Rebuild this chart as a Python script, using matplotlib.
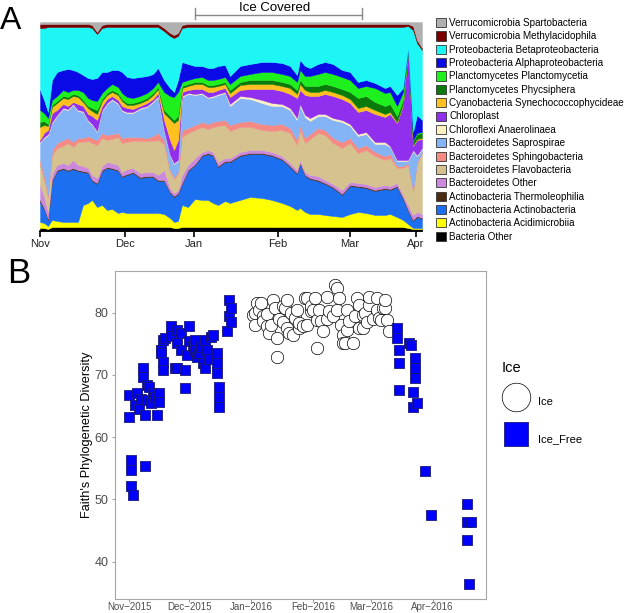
import numpy as np
import pandas as pd
import matplotlib
matplotlib.use('Agg')
import matplotlib.pyplot as plt
from matplotlib.patches import Patch

plt.rcParams['font.family'] = ['Liberation Sans', 'DejaVu Sans']

# ---------------- panel A: relative abundance ----------------
a_pos = [0, 4, 8, 12, 17, 23, 28, 33, 38, 43,
         48, 52, 57, 62, 67, 72, 78, 82, 87, 93,
         100, 107, 113, 118, 124, 130, 134, 138, 142, 148,
         155, 162, 168, 173, 178, 185, 190, 200, 210, 222,
         232, 242, 250, 257, 260, 265, 270, 278, 285, 293,
         302, 310, 318, 326, 335, 345, 350, 357, 363, 368,
         373, 377, 382]
a_tick_pos = [0, 85, 154, 238, 310, 376]
a_tick_lab = ['Nov', 'Dec', 'Jan', 'Feb', 'Mar', 'Apr']
ice_span = (155, 322)

bact_other = [3, 3, 2, 4, 4, 4, 4, 4, 4, 4, 4, 4, 4, 4, 4, 4, 4, 4, 4, 4,
              4, 4, 4, 4, 4, 4, 3, 3, 4, 4, 4, 4, 4, 4, 4, 4, 4, 4, 4, 4,
              4, 4, 4, 4, 4, 4, 4, 4, 4, 4, 4, 4, 4, 4, 4, 4, 4, 4, 4, 3, 2, 2, 2]
acidimicrobiia = [6, 5, 3, 7, 6, 5, 5, 5, 5, 22, 24, 27, 20, 22, 17, 18, 14, 15, 14, 14,
                  14, 14, 14, 14, 13, 9, 6, 7, 22, 20, 28, 27, 27, 24, 22, 26, 24, 27, 30, 29,
                  27, 24, 21, 17, 19, 15, 13, 13, 12, 11, 10, 13, 15, 14, 12, 12, 13, 10, 7, 4, 1, 1, 1]
actinobacteria = [20, 14, 6, 39, 50, 53, 51, 53, 51, 33, 30, 19, 23, 34, 42, 40, 42, 35, 38, 40,
                  35, 36, 36, 32, 33, 25, 25, 27, 21, 36, 34, 44, 46, 47, 38, 39, 41, 44, 43, 44,
                  44, 43, 39, 36, 44, 36, 35, 33, 31, 28, 22, 28, 25, 25, 24, 26, 24, 30, 21, 13, 7, 11, 9]
thermoleophilia = [2] + [1] * 62
bact_other_bd = [15, 12, 7, 7, 5, 5, 5, 8, 5, 5, 4, 5, 5, 4, 5, 5, 5, 4, 5, 4,
                 4, 4, 4, 5, 10, 4, 3, 3, 8, 5, 6, 3, 3, 3, 4, 3, 3, 3, 3, 3,
                 3, 3, 3, 3, 3, 3, 3, 4, 3, 3, 4, 3, 3, 3, 3, 3, 3, 3, 3, 5, 5, 4, 4]
flavobacteria = [20, 16, 15, 18, 17, 17, 22, 13, 23, 24, 27, 32, 33, 28, 22, 24, 28, 29, 27, 27,
                 32, 31, 31, 35, 26, 16, 14, 16, 38, 32, 28, 25, 21, 25, 36, 33, 27, 25, 23, 20,
                 21, 26, 30, 25, 30, 29, 36, 43, 45, 41, 42, 39, 30, 34, 31, 25, 28, 15, 27, 40, 24, 49, 61]
sphingobacteria = [5, 5, 2, 5, 5, 6, 5, 5, 4, 4, 5, 5, 5, 5, 5, 5, 4, 5, 5, 4,
                   4, 3, 5, 7, 4, 2, 2, 2, 7, 5, 5, 5, 5, 5, 5, 5, 6, 5, 6, 6,
                   6, 6, 5, 5, 5, 5, 5, 5, 5, 5, 6, 5, 5, 5, 4, 4, 4, 2, 2, 2, 1, 1, 1]
saprospirae = [17, 37, 60, 27, 27, 31, 28, 37, 27, 26, 15, 13, 8, 22, 31, 34, 29, 27, 24, 24,
               28, 31, 34, 36, 9, 14, 13, 11, 33, 34, 30, 28, 26, 25, 26, 27, 19, 24, 22, 21,
               19, 18, 18, 20, 19, 21, 13, 12, 14, 18, 20, 12, 12, 11, 8, 12, 7, 5, 5, 2, 39, 6, 3]
anaerolinaea = [1] * 36 + [2, 2, 2, 3, 3, 2, 2, 2, 2, 2, 3, 2, 2, 2,
                           2, 2, 2, 2, 2, 2, 1, 1, 1, 1, 1, 1, 1]
chloroplast = [2, 4, 4, 9, 5, 4, 3, 2, 6, 5, 6, 8, 11, 4, 4, 3, 3, 4, 4, 3,
               2, 3, 2, 3, 10, 15, 13, 20, 4, 3, 5, 4, 5, 4, 4, 4, 7, 6, 8, 11,
               14, 13, 14, 20, 14, 20, 22, 18, 20, 22, 21, 21, 22, 22, 28, 25, 32, 37, 55, 112, 4, 15, 9]
synechococco = [13, 8, 4, 6, 7, 6, 7, 6, 7, 4, 6, 5, 6, 5, 4, 4, 5, 5, 3, 4,
                3, 3, 4, 4, 7, 21, 27, 20, 4, 4, 5, 5, 5, 5, 4, 4, 4, 5, 5, 5,
                5, 5, 6, 4, 6, 5, 4, 4, 4, 4, 4, 4, 4, 4, 4, 3, 2, 1, 1, 0, 1, 1, 1]
phycisphera = [5, 4, 2, 2, 2, 2, 2, 2, 2, 2, 2, 3, 4, 2, 2, 2, 2, 2, 2, 2,
               2, 2, 2, 2, 3, 3, 3, 4, 2, 2, 2, 2, 2, 2, 2, 2, 3, 3, 4, 4,
               4, 4, 4, 4, 4, 4, 6, 6, 6, 6, 6, 7, 10, 10, 8, 8, 8, 6, 4, 0, 4, 5, 5]
planctomycetia = [12, 8, 6, 5, 5, 6, 5, 4, 5, 8, 8, 8, 9, 6, 5, 6, 6, 6, 6, 5,
                  5, 5, 5, 5, 18, 20, 23, 24, 4, 4, 4, 5, 5, 5, 5, 5, 6, 6, 6, 8,
                  8, 8, 8, 8, 10, 10, 10, 12, 12, 12, 12, 12, 10, 10, 14, 13, 12, 10, 8, 0, 1, 1, 1]
alphaproteo = [20, 13, 6, 20, 24, 20, 23, 20, 18, 17, 20, 21, 23, 21, 16, 14, 17, 21, 20, 20,
               19, 17, 14, 14, 12, 8, 5, 12, 20, 16, 12, 11, 12, 12, 13, 12, 8, 10, 10, 10,
               10, 11, 10, 7, 10, 10, 8, 10, 10, 10, 7, 8, 6, 6, 5, 5, 6, 11, 4, 0, 8, 18, 12]
betaproteo = [62, 72, 85, 53, 45, 43, 42, 43, 45, 48, 51, 51, 44, 44, 45, 43, 43, 45, 50, 51,
              50, 49, 47, 41, 49, 52, 54, 44, 34, 37, 39, 39, 41, 41, 39, 38, 49, 39, 37, 35,
              35, 36, 39, 48, 33, 39, 41, 37, 35, 37, 43, 45, 55, 53, 56, 61, 59, 68, 61, 22, 102, 72, 70]
methylacidophila = [4, 4] + [3] * 10 + [2] + [3] * 46 + [2, 4, 3, 2]
spartobacteria = [2] * 11 + [3, 10, 3] + [2] * 10 + [6, 11, 13, 11, 3] + [2] * 31 + [4, 18, 26]

# stacking order, bottom to top
taxa = ['Bacteria Other', 'Actinobacteria Acidimicrobiia', 'Actinobacteria Actinobacteria',
        'Actinobacteria Thermoleophilia', 'Bacteroidetes Other', 'Bacteroidetes Flavobacteria',
        'Bacteroidetes Sphingobacteria', 'Bacteroidetes Saprospirae', 'Chloroflexi Anaerolinaea',
        'Chloroplast', 'Cyanobacteria Synechococcophycideae', 'Planctomycetes Phycsiphera',
        'Planctomycetes Planctomycetia', 'Proteobacteria Alphaproteobacteria',
        'Proteobacteria Betaproteobacteria', 'Verrucomicrobia Methylacidophila',
        'Verrucomicrobia Spartobacteria']
taxa_colors = ['#000000', '#ffff00', '#1c6ff0', '#4a2a10', '#cc88dd', '#d5c28f',
               '#f58a84', '#84b4f5', '#fff0c4', '#9030ee', '#ffc020', '#0a7a0a',
               '#1ef01e', '#0a0ae6', '#1ef5f5', '#7a0000', '#b0b0b0']
layers = [bact_other, acidimicrobiia, actinobacteria, thermoleophilia, bact_other_bd,
          flavobacteria, sphingobacteria, saprospirae, anaerolinaea, chloroplast,
          synechococco, phycisphera, planctomycetia, alphaproteo, betaproteo,
          methylacidophila, spartobacteria]

# ---------------- panel B: Faith's PD ----------------
ice_dates = ['2016-01-02', '2016-01-03', '2016-01-03', '2016-01-04', '2016-01-05', '2016-01-06',
             '2016-01-07', '2016-01-07', '2016-01-09', '2016-01-09', '2016-01-10', '2016-01-11',
             '2016-01-12', '2016-01-13', '2016-01-14', '2016-01-14', '2016-01-15', '2016-01-17',
             '2016-01-17', '2016-01-18', '2016-01-19', '2016-01-19', '2016-01-20', '2016-01-21',
             '2016-01-22', '2016-01-23', '2016-01-24', '2016-01-25', '2016-01-25', '2016-01-27',
             '2016-01-28', '2016-01-29', '2016-01-29', '2016-01-31', '2016-01-31', '2016-02-01',
             '2016-02-02', '2016-02-03', '2016-02-03', '2016-02-04', '2016-02-05', '2016-02-06',
             '2016-02-08', '2016-02-08', '2016-02-09', '2016-02-11', '2016-02-12', '2016-02-13',
             '2016-02-13', '2016-02-14', '2016-02-15', '2016-02-16', '2016-02-16', '2016-02-17',
             '2016-02-18', '2016-02-18', '2016-02-19', '2016-02-21', '2016-02-22', '2016-02-23',
             '2016-02-24', '2016-02-24', '2016-02-26', '2016-02-26', '2016-02-27', '2016-02-28',
             '2016-02-29', '2016-02-29', '2016-03-02', '2016-03-04', '2016-03-04', '2016-03-05',
             '2016-03-06', '2016-03-07', '2016-03-08', '2016-03-08', '2016-03-09', '2016-03-10']
ice_pd = [79.6, 80.0, 78.0, 81.5, 80.5, 81.5, 79.4, 78.6, 77.8, 79.8, 76.8, 78.0,
          82.0, 80.8, 72.9, 75.9, 79.0, 81.0, 78.5, 80.8, 77.5, 82.0, 76.7, 80.0,
          76.4, 79.2, 80.5, 77.5, 78.3, 77.8, 82.3, 82.3, 78.0, 80.2, 81.0, 80.4,
          82.3, 74.4, 78.8, 80.5, 78.6, 77.0, 82.6, 79.0, 80.2, 79.4, 84.4, 84.0,
          80.5, 82.3, 78.0, 76.4, 75.1, 75.1, 77.2, 80.5, 78.6, 75.1, 79.5, 82.3,
          77.5, 81.2, 79.6, 77.5, 80.0, 78.5, 81.2, 82.6, 79.0, 82.3, 80.4, 79.1,
          78.8, 80.8, 80.7, 82.0, 78.8, 77.0]
free_dates = ['2015-11-01', '2015-11-01', '2015-11-02', '2015-11-02', '2015-11-02', '2015-11-03',
              '2015-11-09', '2015-11-04', '2015-11-05', '2015-11-06', '2015-11-07', '2015-11-08',
              '2015-11-08', '2015-11-09', '2015-11-10', '2015-11-10', '2015-11-11', '2015-11-12',
              '2015-11-13', '2015-11-14', '2015-11-15', '2015-11-16', '2015-11-16', '2015-11-17',
              '2015-11-17', '2015-11-18', '2015-11-18', '2015-11-18', '2015-11-19', '2015-11-22',
              '2015-11-22', '2015-11-24', '2015-11-25', '2015-11-25', '2015-11-25', '2015-11-27',
              '2015-11-27', '2015-11-29', '2015-11-29', '2015-11-30', '2015-12-01', '2015-12-01',
              '2015-12-03', '2015-12-04', '2015-12-04', '2015-12-05', '2015-12-06', '2015-12-07',
              '2015-12-08', '2015-12-09', '2015-12-09', '2015-12-10', '2015-12-11', '2015-12-12',
              '2015-12-13', '2015-12-15', '2015-12-15', '2015-12-15', '2015-12-16', '2015-12-16',
              '2015-12-16', '2015-12-20', '2015-12-21', '2015-12-21', '2015-12-22', '2015-12-22',
              '2016-03-14', '2016-03-14', '2016-03-15', '2016-03-15', '2016-03-15', '2016-03-20',
              '2016-03-21', '2016-03-22', '2016-03-22', '2016-03-23', '2016-03-23', '2016-03-23',
              '2016-03-24', '2016-03-28', '2016-03-31', '2016-04-18', '2016-04-18', '2016-04-20',
              '2016-04-18', '2016-04-19']
free_pd = [66.7, 63.3, 56.4, 54.8, 52.1, 50.7, 55.4, 65.2, 67.1, 64.6, 66.2, 71.1,
           69.7, 63.6, 66.0, 68.4, 68.1, 65.5, 67.1, 66.4, 63.6, 67.1, 65.7, 74.0,
           73.5, 75.6, 72.1, 70.8, 75.9, 77.8, 76.3, 71.1, 71.1, 77.2, 75.1, 74.0,
           76.7, 70.8, 67.9, 73.2, 77.8, 75.5, 74.6, 74.0, 75.6, 72.9, 73.5, 74.5,
           71.9, 75.6, 71.1, 74.0, 72.5, 76.1, 76.4, 73.5, 71.9, 70.3, 68.1, 66.5,
           64.9, 77.0, 79.4, 82.0, 80.7, 78.5,
           77.5, 75.9, 74.0, 71.9, 67.6, 75.1, 74.8, 67.3, 64.9, 72.7, 71.1, 69.5,
           65.5, 54.6, 47.5, 49.3, 46.3, 46.3, 43.5, 36.4]
b_ticks = ['2015-11-01', '2015-12-01', '2016-01-01', '2016-02-01', '2016-03-01', '2016-04-01']
b_tick_lab = ['Nov\u22122015', 'Dec\u22122015', 'Jan\u22122016', 'Feb\u22122016',
              'Mar\u22122016', 'Apr\u22122016']

fig = plt.figure(figsize=(6.25, 6.13), dpi=100)

# ---- panel A ----
axA = fig.add_axes([40 / 625, 1 - 231 / 613, 382 / 625, 209 / 613])
arr = np.array(layers, dtype=float)
arr = arr / arr.sum(axis=0) * 100
axA.stackplot(a_pos, arr, colors=taxa_colors, edgecolor='face', linewidth=0.3)
axA.set_xlim(0, 382)
axA.set_ylim(0, 100)
for s in ['left', 'top', 'right']:
    axA.spines[s].set_visible(False)
axA.spines['bottom'].set_linewidth(1.2)
axA.set_yticks([])
axA.set_xticks(a_tick_pos)
axA.set_xticklabels(a_tick_lab, fontsize=8, color='#222222')
axA.tick_params(axis='x', direction='out', length=4, width=1.2, pad=1.5)

# ice covered bracket
tr = axA.get_xaxis_transform()
axA.plot([ice_span[0], ice_span[1]], [1.035, 1.035], color='#888888', lw=1, transform=tr, clip_on=False)
for xe in ice_span:
    axA.plot([xe, xe], [1.014, 1.067], color='#888888', lw=1, transform=tr, clip_on=False)
axA.text(sum(ice_span) / 2 - 4, 1.052, 'Ice Covered', transform=tr, ha='center', va='baseline', fontsize=9.5)

handles = [Patch(facecolor=c, edgecolor='#333333', linewidth=0.6) for c in taxa_colors]
fig.legend(handles[::-1], taxa[::-1], loc='upper left', bbox_to_anchor=(436 / 625, 1 - 18 / 613),
           frameon=False, fontsize=7.1, handlelength=1.05, handleheight=1.05, handletextpad=0.3,
           labelspacing=0.34, borderaxespad=0, borderpad=0)

fig.text(0 / 625, 1 - 29 / 613, 'A', fontsize=23, va='baseline')
fig.text(7 / 625, 1 - 283 / 613, 'B', fontsize=25, va='baseline')

# ---- panel B ----
axB = fig.add_axes([115 / 625, 14 / 613, 371 / 625, 328 / 613])
axB.scatter(pd.to_datetime(ice_dates), ice_pd, s=80, marker='o', facecolor='white',
            edgecolor='black', linewidth=0.5, label='Ice', zorder=2)
axB.scatter(pd.to_datetime(free_dates), free_pd, s=60, marker='s', facecolor='#0000ff',
            edgecolor='#1a1a7a', linewidth=0.6, label='Ice_Free', zorder=3)
axB.set_xlim(pd.Timestamp('2015-11-01') - pd.Timedelta(days=7.2),
             pd.Timestamp('2015-11-01') + pd.Timedelta(days=178.7))
axB.set_ylim(34, 86.7)
axB.set_yticks([40, 50, 60, 70, 80])
axB.set_xticks(pd.to_datetime(b_ticks))
axB.set_xticklabels(b_tick_lab)
axB.tick_params(axis='y', labelsize=9, labelcolor='#4d4d4d', color='#a0a0a0', length=2.5, pad=2)
axB.tick_params(axis='x', labelsize=7, labelcolor='#4d4d4d', color='#a0a0a0', length=2, pad=0.5)
for s in axB.spines.values():
    s.set_color('#a6a6a6')
    s.set_linewidth(0.8)
axB.set_ylabel("Faith's Phylogenetic Diversity", fontsize=9.2)
axB.yaxis.set_label_coords(-0.058, 0.5)

leg = axB.legend(title='Ice', loc='upper left', bbox_to_anchor=(502 / 625, 1 - 361 / 613),
                 bbox_transform=fig.transFigure, frameon=False, markerscale=2.3,
                 fontsize=8, title_fontsize=10.5, handlelength=2.6, handleheight=2.5,
                 handletextpad=0.68, labelspacing=1.45, borderaxespad=0, borderpad=0)
leg._legend_box.align = 'left'

fig.savefig('out.png', dpi=100)
